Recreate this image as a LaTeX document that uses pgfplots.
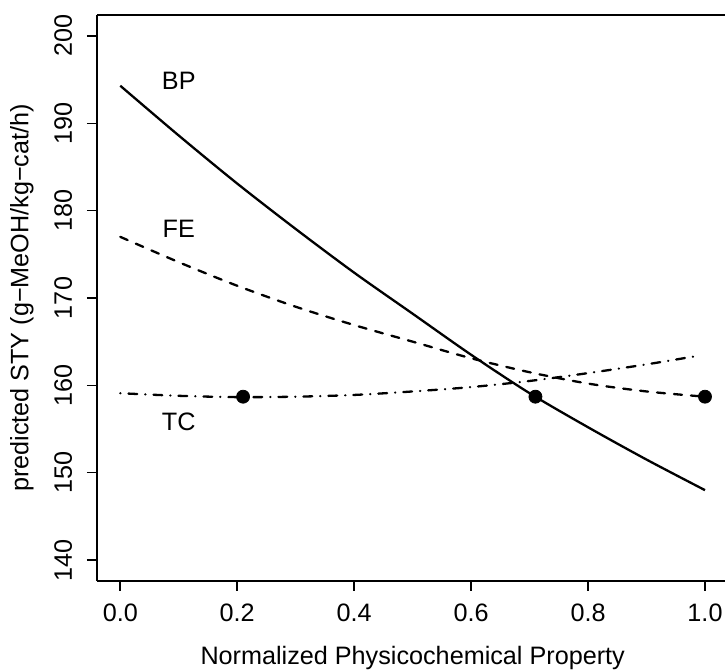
\documentclass[border=0pt]{standalone}
\usepackage{fontspec}
\setmainfont{Liberation Sans}
\usepackage{pgfplots}
\pgfplotsset{compat=1.18}
\begin{document}
\fontsize{12.6}{15}\selectfont
\begin{tikzpicture}
\path[use as bounding box] (-48.45pt,-45.5pt) rectangle (314.05pt,290.5pt);
\begin{axis}[
  at={(0pt,0pt)}, anchor=south west,
  scale only axis, width=314.05pt, height=283pt,
  xmin=-0.04, xmax=1.0342, ymin=137.6, ymax=202.4,
  axis x line*=box, axis y line*=left,
  axis line style={black, line width=0.8pt},
  tick align=outside, major tick length=5pt,
  tick style={black, line width=0.8pt},
  xtick pos=bottom, ytick pos=left,
  xtick={0,0.2,0.4,0.6,0.8,1.0},
  ytick={140,150,160,170,180,190,200},
  /pgf/number format/assume math mode=true,
  xticklabel style={/pgf/number format/.cd, fixed, fixed zerofill, precision=1, /tikz/.cd, anchor=base, inner sep=0pt, yshift=-15.5pt},
  yticklabel style={xshift=-7.5pt, rotate=90, anchor=base, inner sep=0pt},
  xlabel={Normalized Physicochemical Property},
  xlabel style={at={([yshift=-42pt]rel axis cs:0.5028,0)}, anchor=base, inner sep=0pt},
  ylabel={predicted STY (g−MeOH/kg−cat/h)},
  ylabel style={at={([xshift=-34.25pt]rel axis cs:0,0.5)}, rotate=0, anchor=base, inner sep=0pt},
]
\addplot[black, line width=1.15pt, smooth, tension=0.5] coordinates {
 (0,194.3) (0.1,188.6) (0.2,183.1) (0.3,177.9) (0.4,172.9) (0.5,168.2)
 (0.6,163.5) (0.7,159.1) (0.8,155.2) (0.9,151.5) (1.0,148.0)};
\addplot[black, line width=1.15pt, line cap=round, dash pattern=on 4pt off 4.5pt, smooth, tension=0.5] coordinates {
 (0,177.0) (0.1,174.1) (0.2,171.4) (0.3,169.0) (0.4,166.9) (0.5,165.0)
 (0.6,163.1) (0.7,161.5) (0.8,160.2) (0.9,159.3) (1.0,158.7)};
\addplot[black, line width=1.15pt, line cap=round, dash pattern=on 0.1pt off 4pt on 4.4pt off 4pt, smooth, tension=0.5] coordinates {
 (0,159.1) (0.1,158.8) (0.2,158.65) (0.3,158.7) (0.4,158.9) (0.5,159.3)
 (0.6,159.8) (0.7,160.5) (0.8,161.4) (0.9,162.4) (0.99,163.4)};
\addplot[only marks, mark=*, mark size=3.25pt, black] coordinates {
 (0.21,158.7) (0.71,158.7) (1.0,158.7)};
\node at (axis cs:0.1,194.9) {BP};
\node at (axis cs:0.1,177.9) {FE};
\node at (axis cs:0.1,155.8) {TC};
\end{axis}
\end{tikzpicture}
\end{document}
